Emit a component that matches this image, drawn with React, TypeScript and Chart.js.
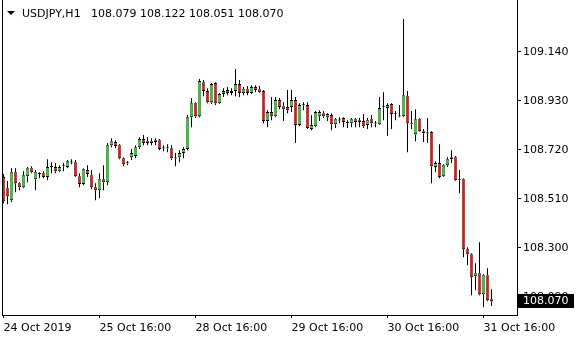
import { useEffect, useRef } from 'react';
import { Chart, registerables } from 'chart.js';

Chart.register(...registerables);

const symbolTitle = 'USDJPY,H1';

const opens = [
  108.603, 108.555, 108.504, 108.624, 108.577, 108.560, 108.607, 108.641, 108.594, 108.620,
  108.620, 108.603, 108.650, 108.646, 108.628, 108.650, 108.646, 108.667, 108.667, 108.607,
  108.573, 108.633, 108.611, 108.560, 108.547, 108.594, 108.581, 108.740, 108.753, 108.740,
  108.684, 108.663, 108.688, 108.693, 108.731, 108.766, 108.749, 108.757, 108.753, 108.761,
  108.727, 108.727, 108.727, 108.684, 108.688, 108.706, 108.723, 108.860, 108.920, 108.864,
  109.010, 108.972, 108.924, 109.006, 108.920, 108.959, 108.976, 108.963, 108.972, 109.002,
  108.963, 108.980, 108.963, 108.989, 108.980, 108.972, 108.843, 108.882, 108.864, 108.933,
  108.907, 108.903, 108.903, 108.933, 108.826, 108.912, 108.912, 108.809, 108.821, 108.864,
  108.877, 108.860, 108.869, 108.830, 108.847, 108.856, 108.839, 108.834, 108.851, 108.847,
  108.843, 108.826, 108.851, 108.834, 108.830, 108.903, 108.899, 108.916, 108.873, 108.864,
  108.864, 108.950, 108.834, 108.787, 108.851, 108.800, 108.791, 108.796, 108.646, 108.663,
  108.607, 108.654, 108.680, 108.688, 108.590, 108.594, 108.294, 108.272, 108.178, 108.191,
  108.101, 108.182, 108.079,
];

const highs = [
  108.616, 108.586, 108.641, 108.641, 108.581, 108.628, 108.646, 108.650, 108.633, 108.624,
  108.628, 108.680, 108.667, 108.663, 108.654, 108.663, 108.676, 108.680, 108.676, 108.620,
  108.641, 108.654, 108.633, 108.577, 108.620, 108.654, 108.749, 108.770, 108.761, 108.744,
  108.688, 108.671, 108.723, 108.740, 108.774, 108.783, 108.774, 108.770, 108.770, 108.766,
  108.740, 108.744, 108.740, 108.706, 108.718, 108.731, 108.869, 108.942, 108.924, 109.023,
  109.019, 108.984, 109.006, 109.010, 108.963, 108.984, 108.989, 108.984, 109.066, 109.019,
  108.989, 108.993, 108.997, 108.997, 108.993, 108.976, 108.890, 108.946, 108.946, 108.942,
  108.924, 108.976, 108.976, 108.946, 108.920, 108.924, 108.924, 108.869, 108.886, 108.890,
  108.886, 108.877, 108.877, 108.856, 108.860, 108.860, 108.847, 108.856, 108.856, 108.856,
  108.873, 108.856, 108.869, 108.843, 108.946, 108.967, 108.920, 108.920, 108.886, 108.912,
  109.281, 108.972, 108.886, 108.894, 108.856, 108.809, 108.856, 108.800, 108.671, 108.744,
  108.658, 108.688, 108.718, 108.693, 108.633, 108.598, 108.302, 108.277, 108.234, 108.324,
  108.187, 108.212, 108.122,
];

const lows = [
  108.491, 108.487, 108.496, 108.538, 108.547, 108.555, 108.581, 108.620, 108.547, 108.598,
  108.598, 108.590, 108.620, 108.620, 108.624, 108.628, 108.641, 108.658, 108.603, 108.560,
  108.568, 108.603, 108.551, 108.504, 108.513, 108.547, 108.568, 108.731, 108.727, 108.680,
  108.650, 108.654, 108.676, 108.684, 108.723, 108.740, 108.740, 108.740, 108.740, 108.718,
  108.714, 108.710, 108.676, 108.650, 108.667, 108.684, 108.718, 108.817, 108.856, 108.860,
  108.950, 108.920, 108.916, 108.912, 108.916, 108.946, 108.954, 108.954, 108.950, 108.946,
  108.954, 108.954, 108.959, 108.967, 108.963, 108.834, 108.817, 108.847, 108.860, 108.894,
  108.843, 108.877, 108.882, 108.749, 108.821, 108.890, 108.809, 108.804, 108.817, 108.843,
  108.856, 108.843, 108.804, 108.813, 108.834, 108.817, 108.813, 108.817, 108.817, 108.817,
  108.813, 108.809, 108.817, 108.817, 108.826, 108.847, 108.779, 108.809, 108.847, 108.860,
  108.860, 108.710, 108.809, 108.757, 108.796, 108.753, 108.749, 108.577, 108.624, 108.598,
  108.603, 108.646, 108.663, 108.586, 108.534, 108.260, 108.225, 108.097, 108.118, 108.097,
  108.045, 108.071, 108.051,
];

const closes = [
  108.500, 108.521, 108.624, 108.577, 108.560, 108.611, 108.641, 108.624, 108.624, 108.616,
  108.603, 108.646, 108.646, 108.628, 108.646, 108.649, 108.671, 108.666, 108.607, 108.573,
  108.637, 108.616, 108.560, 108.547, 108.594, 108.581, 108.740, 108.757, 108.736, 108.684,
  108.658, 108.662, 108.706, 108.731, 108.766, 108.749, 108.757, 108.749, 108.761, 108.723,
  108.726, 108.728, 108.684, 108.683, 108.706, 108.723, 108.860, 108.920, 108.864, 109.015,
  108.972, 108.924, 109.002, 108.920, 108.959, 108.972, 108.963, 108.972, 109.002, 108.963,
  108.980, 108.963, 108.989, 108.976, 108.967, 108.843, 108.882, 108.864, 108.933, 108.903,
  108.894, 108.890, 108.933, 108.826, 108.912, 108.911, 108.813, 108.826, 108.882, 108.882,
  108.864, 108.873, 108.830, 108.851, 108.846, 108.839, 108.834, 108.851, 108.839, 108.839,
  108.821, 108.847, 108.834, 108.833, 108.899, 108.902, 108.912, 108.873, 108.872, 108.863,
  108.954, 108.834, 108.830, 108.851, 108.800, 108.791, 108.790, 108.650, 108.663, 108.603,
  108.654, 108.680, 108.688, 108.590, 108.589, 108.294, 108.272, 108.174, 108.191, 108.101,
  108.182, 108.075, 108.070,
];

const xTickIndex = [0, 24, 48, 72, 96, 120];
const xTickLabels = ['24 Oct 2019', '25 Oct 16:00', '28 Oct 16:00', '29 Oct 16:00', '30 Oct 16:00', '31 Oct 16:00'];
const yTicks = [108.09, 108.3, 108.51, 108.72, 108.93, 109.14];
const yMin = 108.012;
const yMax = 109.362;
const xMin = -0.375;
const xMax = 128.375;

const FONT = "'DejaVu Sans', Verdana, sans-serif";

export default function App() {
  const ref = useRef<HTMLCanvasElement>(null);

  useEffect(() => {
    const idx = opens.map((_, i) => i);
    const up = '#33cc33';
    const down = '#ee1111';

    const overlay = {
      id: 'mtOverlay',
      afterDraw(chart: any) {
        const ctx = chart.ctx;
        const area = chart.chartArea;
        ctx.save();
        ctx.strokeStyle = '#000';
        ctx.lineWidth = 1;
        ctx.beginPath();
        ctx.moveTo(area.left + 0.5, 0);
        ctx.lineTo(area.left + 0.5, area.bottom);
        ctx.stroke();
        ctx.fillStyle = '#000';
        ctx.beginPath();
        ctx.moveTo(7, 11);
        ctx.lineTo(15, 11);
        ctx.lineTo(11, 15);
        ctx.closePath();
        ctx.fill();
        ctx.font = `11px ${FONT}`;
        ctx.textBaseline = 'alphabetic';
        ctx.textAlign = 'left';
        ctx.fillText(symbolTitle, 22, 17);
        const last = opens.length - 1;
        const ohlc = [opens[last], highs[last], lows[last], closes[last]].map((v) => v.toFixed(3)).join(' ');
        ctx.fillText(ohlc, 91, 17);
        const py = Math.round(chart.scales.y.getPixelForValue(closes[last]));
        ctx.fillStyle = '#000';
        ctx.fillRect(area.right + 1, py - 7, 56, 14);
        ctx.fillStyle = '#fff';
        ctx.textBaseline = 'middle';
        ctx.fillText(closes[last].toFixed(3), area.right + 6, py);
        ctx.restore();
      },
    };

    const wickBase = {
      backgroundColor: '#000',
      borderWidth: 0,
      barThickness: 1,
      grouped: false,
      order: 2,
      inflateAmount: 0,
    };

    const chart = new Chart(ref.current as HTMLCanvasElement, {
      type: 'bar',
      data: {
        datasets: [
          {
            ...wickBase,
            label: 'upper wick',
            data: idx.map((i) => ({ x: i, y: [Math.max(opens[i], closes[i]), highs[i]] })) as any,
          } as any,
          {
            ...wickBase,
            label: 'lower wick',
            data: idx.map((i) => ({ x: i, y: [lows[i], Math.min(opens[i], closes[i])] })) as any,
          } as any,
          {
            label: 'body',
            data: idx.map((i) => ({ x: i, y: [opens[i], closes[i]] })) as any,
            backgroundColor: idx.map((i) => (closes[i] >= opens[i] ? up : down)),
            borderColor: '#000',
            borderWidth: { top: 1, bottom: 1, left: 0.5, right: 0.5 },
            borderSkipped: false,
            barThickness: 3,
            minBarLength: 1,
            grouped: false,
            order: 1,
            inflateAmount: 0,
          } as any,
        ],
      },
      options: {
        responsive: false,
        animation: false,
        devicePixelRatio: 1,
        events: [],
        layout: { padding: { left: 2, right: 0, top: 0, bottom: 0 } },
        plugins: { legend: { display: false }, tooltip: { enabled: false }, title: { display: false } },
        scales: {
          x: {
            type: 'linear',
            position: 'bottom',
            min: xMin,
            max: xMax,
            offset: false,
            grid: { display: true, drawOnChartArea: false, drawTicks: true, tickLength: 3, color: '#000', offset: false },
            border: { display: true, color: '#000', width: 1 },
            ticks: {
              autoSkip: false,
              maxRotation: 0,
              minRotation: 0,
              align: 'start',
              padding: 4,
              color: '#000',
              font: { family: FONT, size: 11 },
              callback: (v: any) => {
                const k = xTickIndex.indexOf(Number(v));
                return k >= 0 ? xTickLabels[k] : '';
              },
            },
            afterBuildTicks: (s: any) => {
              s.ticks = xTickIndex.map((v) => ({ value: v }));
            },
            afterFit: (s: any) => {
              s.height = 25;
              s.paddingLeft = 0;
              s.paddingRight = 0;
            },
          } as any,
          y: {
            type: 'linear',
            position: 'right',
            min: yMin,
            max: yMax,
            grid: { drawOnChartArea: false, drawTicks: true, tickLength: 4, color: '#000' },
            border: { display: true, color: '#000', width: 1 },
            ticks: {
              padding: 2,
              color: '#000',
              font: { family: FONT, size: 11 },
              callback: (v: any) => Number(v).toFixed(3),
            },
            afterBuildTicks: (s: any) => {
              s.ticks = yTicks.map((v) => ({ value: v }));
            },
            afterFit: (s: any) => {
              s.width = 63;
              s.paddingTop = 0;
              s.paddingBottom = 0;
            },
          } as any,
        },
      },
      plugins: [overlay],
    });

    return () => chart.destroy();
  }, []);

  return (
    <div style={{ position: 'absolute', left: 0, top: 0, width: 580, height: 340, background: '#fff' }}>
      <canvas ref={ref} width={580} height={340} style={{ display: 'block', width: 580, height: 340 }} />
    </div>
  );
}
